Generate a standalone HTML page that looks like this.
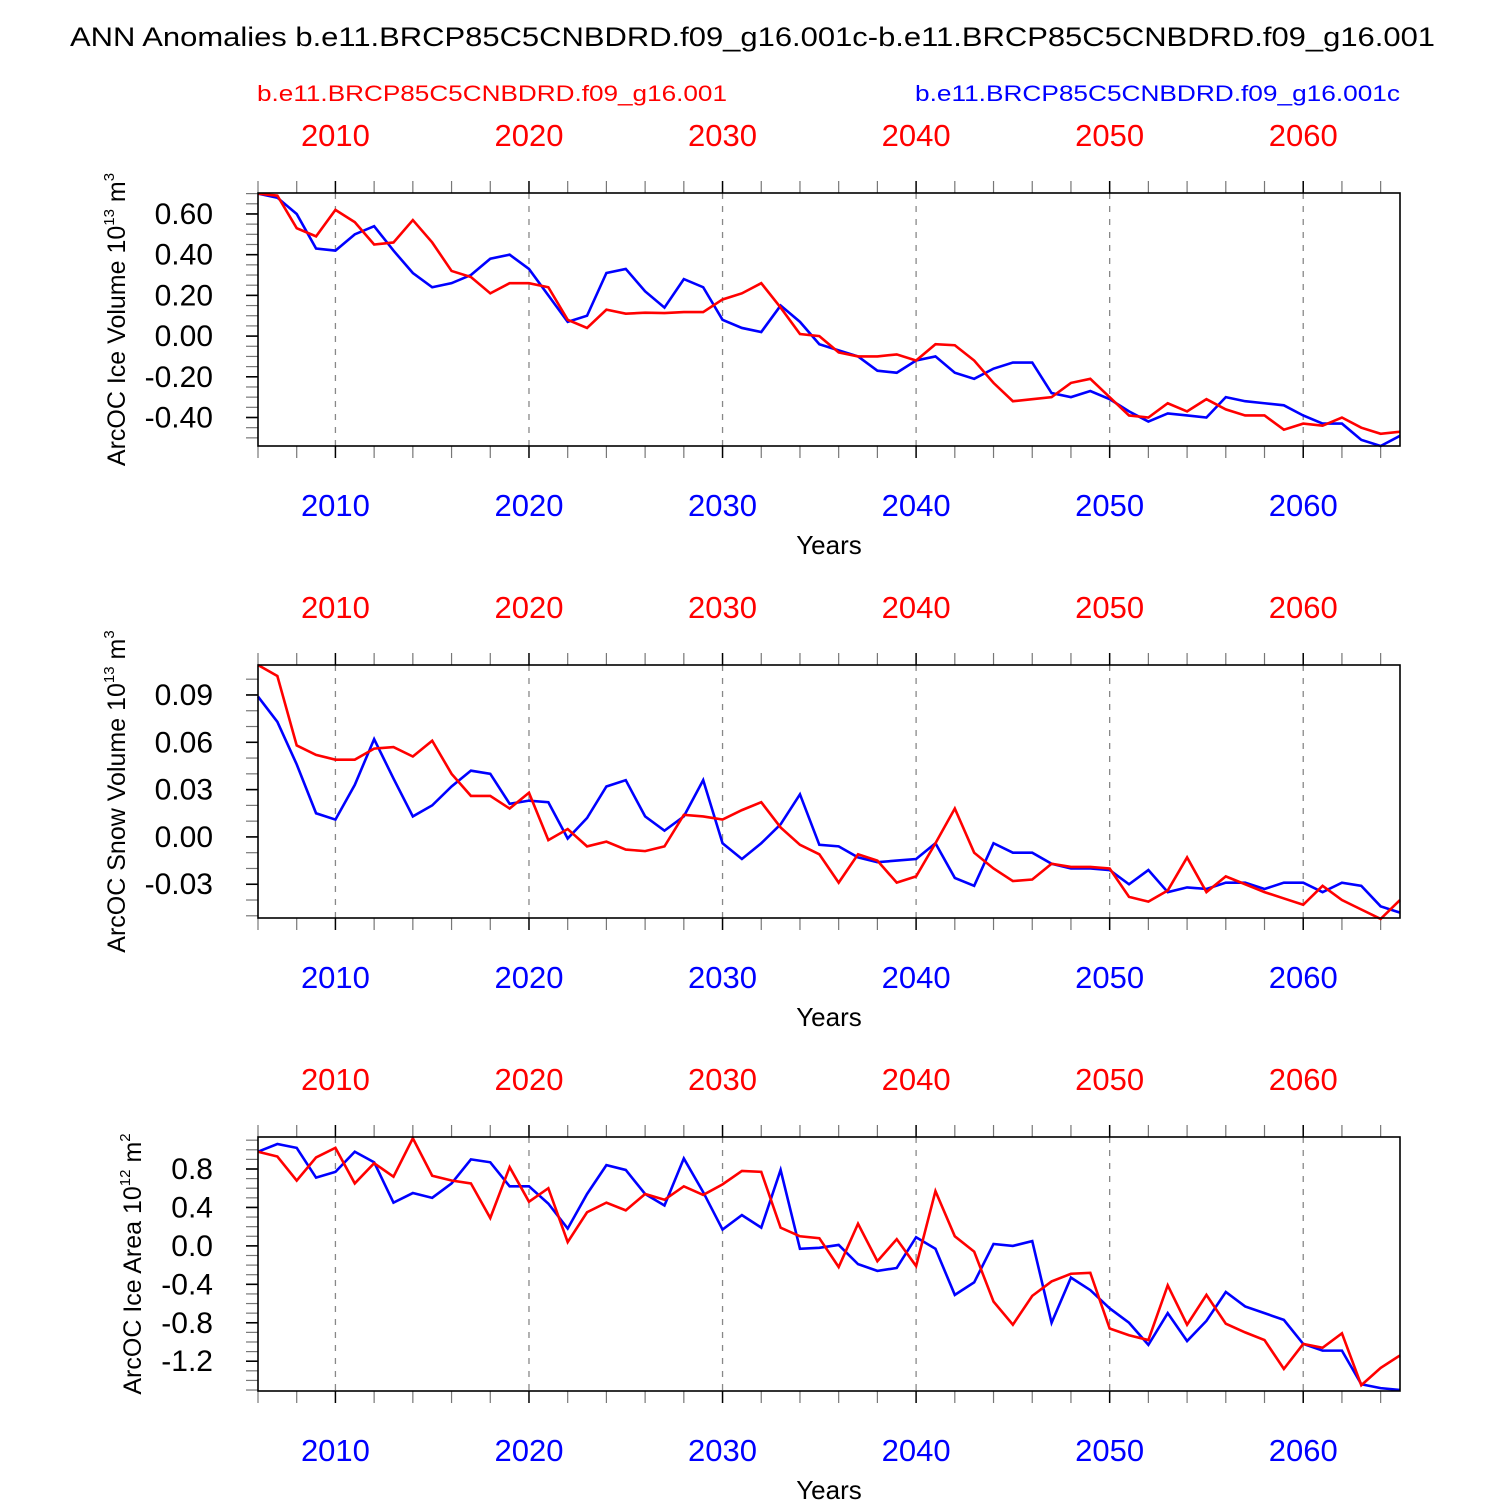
<!DOCTYPE html>
<html><head><meta charset="utf-8"><style>
html,body{margin:0;padding:0;background:#fff;}
svg{display:block;font-family:"Liberation Sans",Arial,sans-serif;}
</style></head><body>
<svg id="chart" width="1500" height="1500" viewBox="0 0 1500 1500" xmlns="http://www.w3.org/2000/svg">
<text x="70" y="46" font-size="27" textLength="1365" lengthAdjust="spacingAndGlyphs">ANN Anomalies b.e11.BRCP85C5CNBDRD.f09_g16.001c-b.e11.BRCP85C5CNBDRD.f09_g16.001</text>
<text x="257" y="101" font-size="22" fill="#ff0000" textLength="470" lengthAdjust="spacingAndGlyphs">b.e11.BRCP85C5CNBDRD.f09_g16.001</text>
<text x="915" y="101" font-size="22" fill="#0000ff" textLength="485" lengthAdjust="spacingAndGlyphs">b.e11.BRCP85C5CNBDRD.f09_g16.001c</text>
</svg>
<script>
const years = [];
for (let y = 2006; y <= 2065; y++) years.push(y);
const decadeLabels = [2010, 2020, 2030, 2040, 2050, 2060];

const volRed = [0.70,0.69,0.53,0.49,0.62,0.56,0.45,0.46,0.57,0.46,0.32,0.29,0.21,0.26,0.26,0.24,0.08,0.04,0.13,0.11,0.115,0.113,0.118,0.118,0.18,0.21,0.26,0.14,0.01,0.00,-0.08,-0.10,-0.10,-0.09,-0.12,-0.04,-0.045,-0.12,-0.23,-0.32,-0.31,-0.30,-0.23,-0.21,-0.30,-0.39,-0.40,-0.33,-0.37,-0.31,-0.36,-0.39,-0.39,-0.46,-0.43,-0.44,-0.40,-0.45,-0.48,-0.47];
const volBlue = [0.70,0.68,0.60,0.43,0.42,0.50,0.54,0.42,0.31,0.24,0.26,0.30,0.38,0.40,0.33,0.20,0.07,0.10,0.31,0.33,0.22,0.14,0.28,0.24,0.08,0.04,0.02,0.15,0.07,-0.04,-0.07,-0.10,-0.17,-0.18,-0.12,-0.10,-0.18,-0.21,-0.16,-0.13,-0.13,-0.28,-0.30,-0.27,-0.31,-0.37,-0.42,-0.38,-0.39,-0.40,-0.30,-0.32,-0.33,-0.34,-0.39,-0.43,-0.43,-0.51,-0.54,-0.49];
const volTicks = [0.6,0.4,0.2,0.0,-0.2,-0.4];
const volTickLabels = ["0.60","0.40","0.20","0.00","-0.20","-0.40"];

const snowRed = [0.109,0.102,0.058,0.052,0.049,0.049,0.056,0.057,0.051,0.061,0.040,0.026,0.026,0.018,0.028,-0.002,0.005,-0.006,-0.003,-0.008,-0.009,-0.006,0.014,0.013,0.011,0.017,0.022,0.006,-0.005,-0.011,-0.029,-0.011,-0.015,-0.029,-0.025,-0.004,0.018,-0.010,-0.020,-0.028,-0.027,-0.017,-0.019,-0.019,-0.020,-0.038,-0.041,-0.034,-0.013,-0.035,-0.025,-0.030,-0.035,-0.039,-0.043,-0.031,-0.040,-0.046,-0.052,-0.040];
const snowBlue = [0.089,0.073,0.046,0.015,0.011,0.033,0.062,0.037,0.013,0.020,0.032,0.042,0.040,0.021,0.023,0.022,-0.001,0.012,0.032,0.036,0.013,0.004,0.013,0.036,-0.004,-0.014,-0.004,0.008,0.027,-0.005,-0.006,-0.013,-0.016,-0.015,-0.014,-0.004,-0.026,-0.031,-0.004,-0.010,-0.010,-0.017,-0.020,-0.020,-0.021,-0.030,-0.021,-0.035,-0.032,-0.033,-0.029,-0.029,-0.033,-0.029,-0.029,-0.035,-0.029,-0.031,-0.044,-0.048];
const snowTicks = [0.09,0.06,0.03,0.0,-0.03];
const snowTickLabels = ["0.09","0.06","0.03","0.00","-0.03"];

const areaRed = [0.98,0.93,0.68,0.92,1.02,0.65,0.86,0.72,1.12,0.73,0.68,0.65,0.29,0.82,0.46,0.60,0.04,0.35,0.45,0.37,0.54,0.48,0.62,0.53,0.64,0.78,0.77,0.19,0.10,0.08,-0.22,0.23,-0.16,0.07,-0.21,0.57,0.10,-0.06,-0.58,-0.82,-0.52,-0.37,-0.29,-0.28,-0.86,-0.93,-0.98,-0.41,-0.82,-0.51,-0.81,-0.90,-0.98,-1.28,-1.02,-1.06,-0.91,-1.45,-1.27,-1.14];
const areaBlue = [0.98,1.06,1.02,0.71,0.77,0.98,0.87,0.45,0.55,0.50,0.65,0.90,0.87,0.62,0.62,0.44,0.18,0.54,0.84,0.79,0.54,0.42,0.91,0.56,0.17,0.32,0.19,0.79,-0.03,-0.02,0.01,-0.19,-0.26,-0.23,0.09,-0.03,-0.51,-0.38,0.02,0.00,0.05,-0.80,-0.33,-0.46,-0.65,-0.80,-1.03,-0.70,-0.99,-0.78,-0.48,-0.63,-0.70,-0.77,-1.02,-1.09,-1.09,-1.44,-1.48,-1.50];
const areaTicks = [0.8,0.4,0.0,-0.4,-0.8,-1.2];
const areaTickLabels = ["0.8","0.4","0.0","-0.4","-0.8","-1.2"];

const NS = "http://www.w3.org/2000/svg";
const svg = document.getElementById("chart");
function mk(tag, attrs, parent, text) {
  const e = document.createElementNS(NS, tag);
  for (const k in attrs) e.setAttribute(k, attrs[k]);
  if (text !== undefined) e.textContent = text;
  (parent || svg).appendChild(e);
  return e;
}
const X0 = 258, X1 = 1400, Y0YEAR = 2006, Y1YEAR = 2065;
function xs(yr) { return X0 + (yr - Y0YEAR) / (Y1YEAR - Y0YEAR) * (X1 - X0); }

const panels = [
  {id:"ice-volume", top:193, bot:446, vmax:0.703, vmin:-0.54, minor:0.05, red:volRed, blue:volBlue, ticks:volTicks, labels:volTickLabels, title:"ArcOC Ice Volume 10", sup:"13", unit:" m", usup:"3", tx:125, tlen:307},
  {id:"snow-volume", top:665, bot:918, vmax:0.109, vmin:-0.0514, minor:0.01, red:snowRed, blue:snowBlue, ticks:snowTicks, labels:snowTickLabels, title:"ArcOC Snow Volume 10", sup:"13", unit:" m", usup:"3", tx:125, tlen:338},
  {id:"ice-area", top:1137, bot:1391, vmax:1.133, vmin:-1.51, minor:0.1, red:areaRed, blue:areaBlue, ticks:areaTicks, labels:areaTickLabels, title:"ArcOC Ice Area 10", sup:"12", unit:" m", usup:"2", tx:141, tlen:275}
];

panels.forEach(p => {
  const g = mk("g", {});
  
  
  const ys = v => p.top + (p.vmax - v) / (p.vmax - p.vmin) * (p.bot - p.top);
  decadeLabels.forEach(d => {
    const l = mk("line", {x1:xs(d), x2:xs(d), y1:p.top, y2:p.bot, stroke:"#888", "stroke-width":1.3, "stroke-dasharray":"6,7"}, g);
    
    
  });
  for (let yr = 2006; yr <= 2064; yr += 2) {
    const major = yr % 10 === 0;
    mk("line", {x1:xs(yr), x2:xs(yr), y1:p.top, y2:p.top - 12, stroke:major?"#000":"#777", "stroke-width":major?1.5:1.2}, g);
    mk("line", {x1:xs(yr), x2:xs(yr), y1:p.bot, y2:p.bot + 12, stroke:major?"#000":"#777", "stroke-width":major?1.5:1.2}, g);
  }
  decadeLabels.forEach(d => {
    const t = mk("text", {x:xs(d), y:p.top - 47, "font-size":31, fill:"#ff0000", "text-anchor":"middle"}, g, String(d));
    
    
    const b = mk("text", {x:xs(d), y:p.bot + 70, "font-size":31, fill:"#0000ff", "text-anchor":"middle"}, g, String(d));
    
    
  });
  const xt = mk("text", {x:829, y:p.bot + 108, "font-size":26, "text-anchor":"middle"}, g, "Years");
  
  
  const start = Math.ceil(p.vmin / p.minor - 1e-6);
  const end = Math.floor(p.vmax / p.minor + 1e-6);
  for (let i = start; i <= end; i++) {
    const v = i * p.minor;
    mk("line", {x1:X0, x2:X0 - 12, y1:ys(v), y2:ys(v), stroke:"#777", "stroke-width":1.2}, g);
  }
  p.ticks.forEach((v, i) => {
    mk("line", {x1:X0, x2:X0 - 12, y1:ys(v), y2:ys(v), stroke:"#000", "stroke-width":1.6}, g);
    const t = mk("text", {x:213, y:ys(v) + 10, "font-size":30, "text-anchor":"end"}, g, p.labels[i]);
    
    
  });
  const cy = (p.top + p.bot) / 2;
  const yt = mk("text", {transform:`translate(${p.tx},${cy}) rotate(-90)`, "font-size":25, "text-anchor":"middle"}, g);
  
  
  mk("tspan", {}, yt, p.title);
  mk("tspan", {"font-size":15, dy:-11}, yt, p.sup);
  mk("tspan", {dy:11}, yt, p.unit);
  mk("tspan", {"font-size":15, dy:-11}, yt, p.usup);
  const blue = mk("polyline", {points:years.map((yr,i)=>xs(yr)+","+ys(p.blue[i])).join(" "), fill:"none", stroke:"#0000ff", "stroke-width":2.6}, g);
  
  
  const red = mk("polyline", {points:years.map((yr,i)=>xs(yr)+","+ys(p.red[i])).join(" "), fill:"none", stroke:"#ff0000", "stroke-width":2.6}, g);
  
  
  const box = mk("rect", {x:X0, y:p.top, width:X1 - X0, height:p.bot - p.top, fill:"none", stroke:"#000", "stroke-width":1.6}, g);
  
  
});
</script>
</body></html>
